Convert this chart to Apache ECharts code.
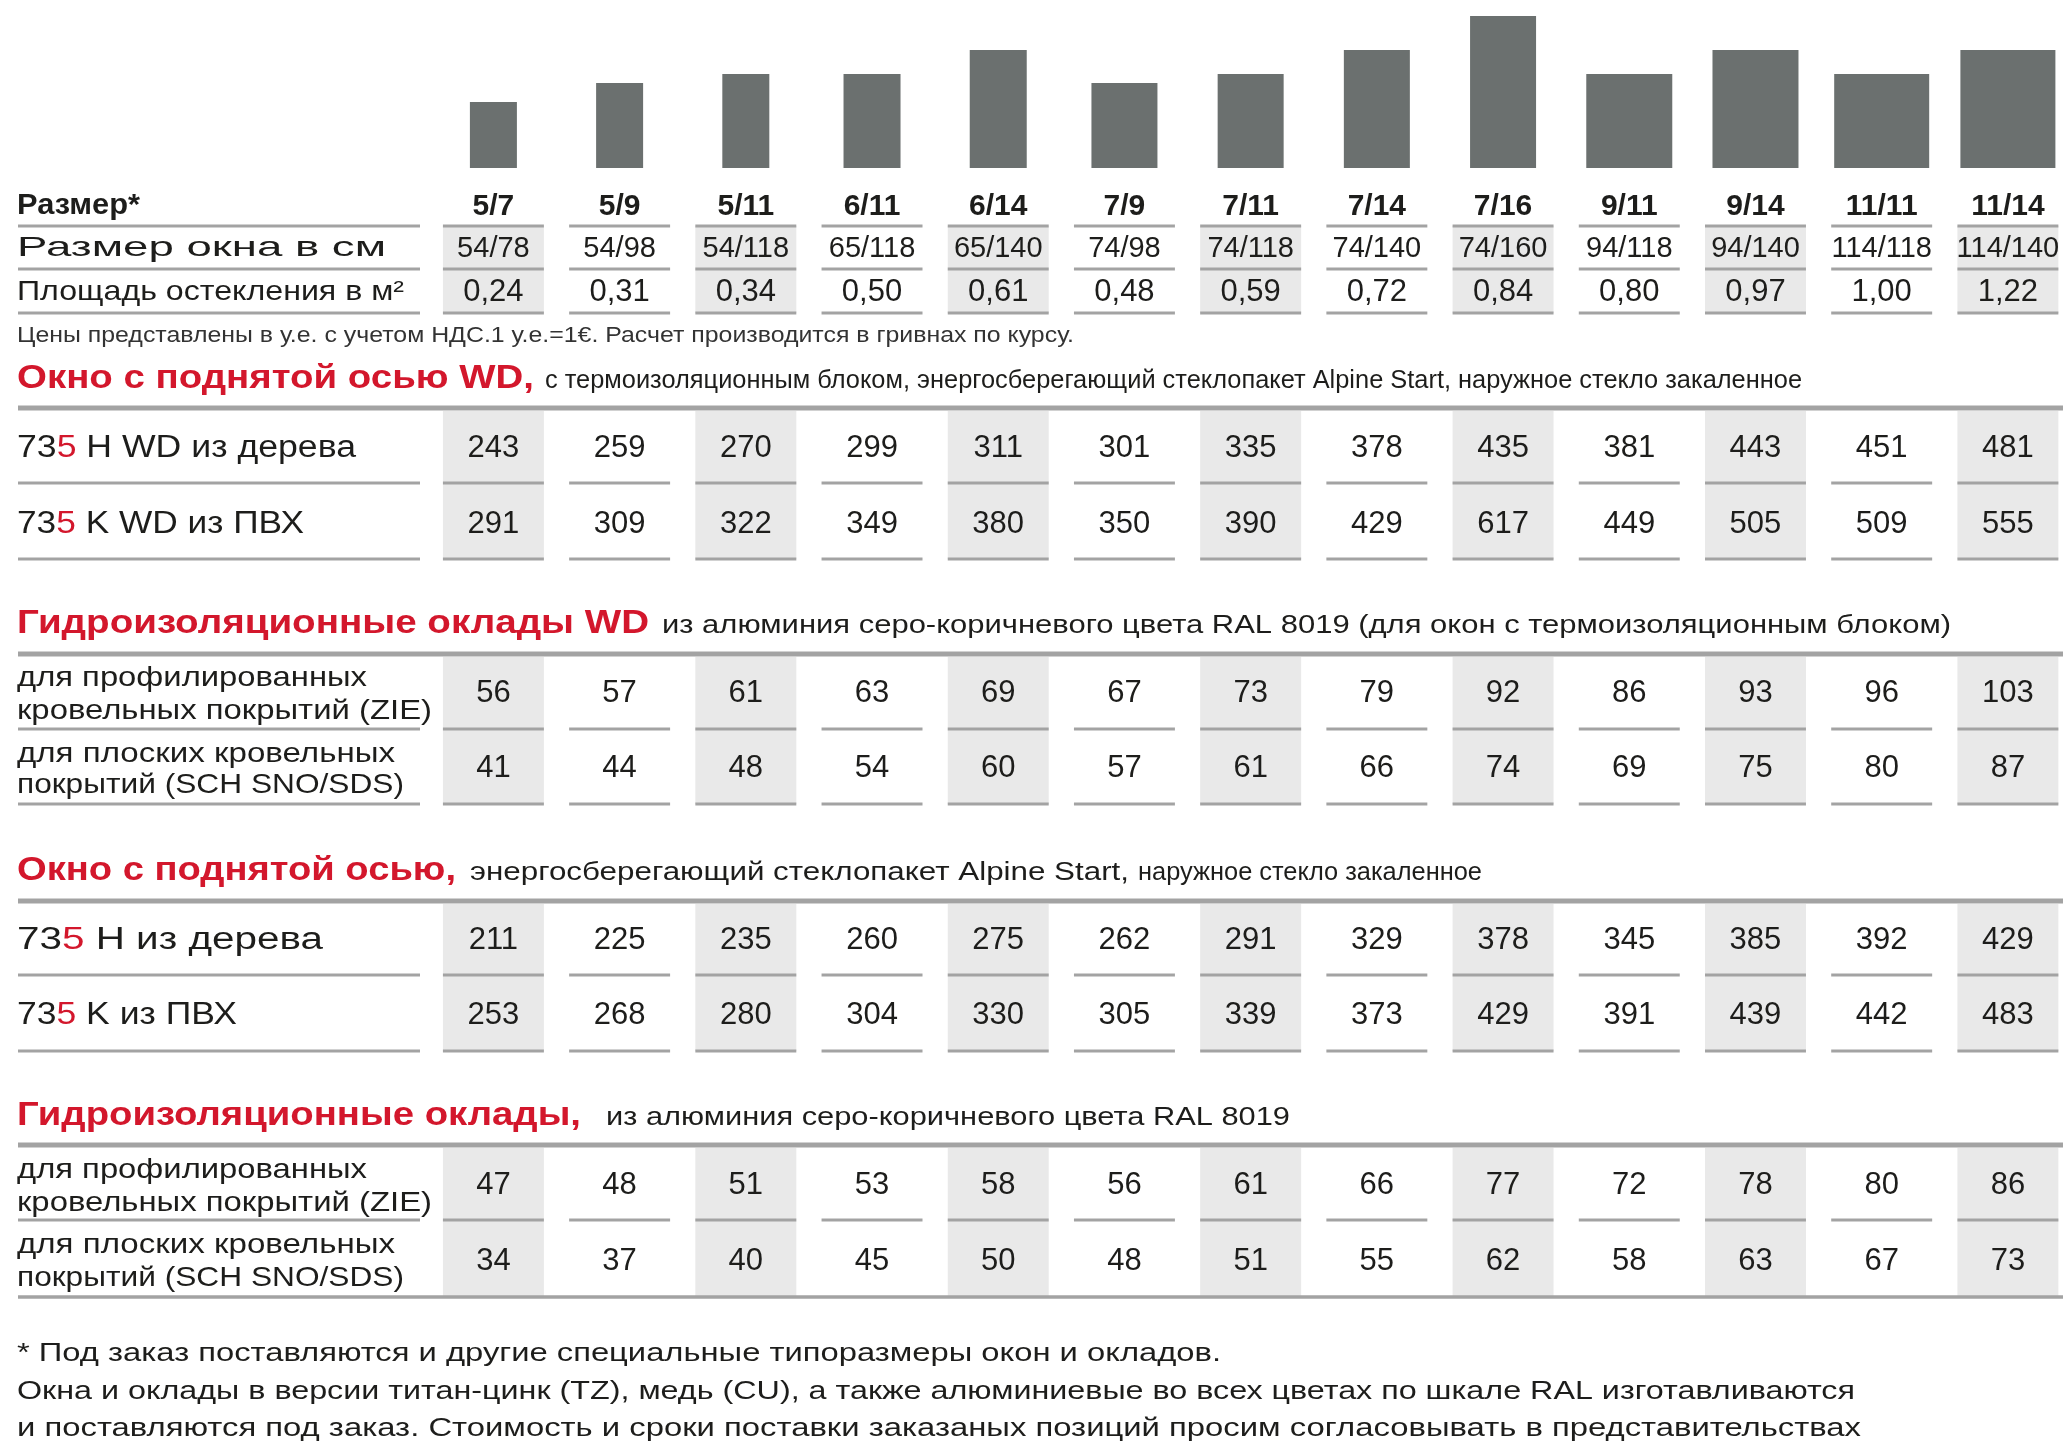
<!DOCTYPE html>
<html><head><meta charset="utf-8">
<script src="https://cdn.jsdelivr.net/npm/echarts@6/dist/echarts.min.js"></script>
<style>html,body{margin:0;padding:0;background:#fff}#c{width:2071px;height:1447px}</style>
</head><body><div id="c"></div>
<script>
// ---------- DATA ----------
const sizes = ['5/7','5/9','5/11','6/11','6/14','7/9','7/11','7/14','7/16','9/11','9/14','11/11','11/14'];
const windowSizes = ['54/78','54/98','54/118','65/118','65/140','74/98','74/118','74/140','74/160','94/118','94/140','114/118','114/140'];
const glazingArea = ['0,24','0,31','0,34','0,50','0,61','0,48','0,59','0,72','0,84','0,80','0,97','1,00','1,22'];
// window pictogram size (relative units)
const iconHeight = [66,85,94,94,118,85,94,118,152,94,118,94,118];
const iconWidth  = [47,47,47,57,57,66,66,66,66,86,86,95,95];
// prices
const wdWood    = [243,259,270,299,311,301,335,378,435,381,443,451,481];
const wdPvc     = [291,309,322,349,380,350,390,429,617,449,505,509,555];
const wdFlashZie= [56,57,61,63,69,67,73,79,92,86,93,96,103];
const wdFlashSch= [41,44,48,54,60,57,61,66,74,69,75,80,87];
const wood      = [211,225,235,260,275,262,291,329,378,345,385,392,429];
const pvc       = [253,268,280,304,330,305,339,373,429,391,439,442,483];
const flashZie  = [47,48,51,53,58,56,61,66,77,72,78,80,86];
const flashSch  = [34,37,40,45,50,48,51,55,62,58,63,67,73];
// texts
const headerLabels = ['Размер*','Размер окна в см','Площадь остекления в м²'];
const noteText = 'Цены представлены в у.е. с учетом НДС.1 у.е.=1€. Расчет производится в гривнах по курсу.';
const sectionTitles = ['Окно с поднятой осью WD,','Гидроизоляционные оклады WD','Окно с поднятой осью,','Гидроизоляционные оклады,'];
const sectionSubtitles = [
  ['с термоизоляционным блоком, энергосберегающий стеклопакет Alpine Start, наружное стекло закаленное'],
  ['из алюминия серо-коричневого цвета RAL 8019 (для окон с термоизоляционным блоком)'],
  ['энергосберегающий стеклопакет Alpine Start,','наружное стекло закаленное'],
  ['из алюминия серо-коричневого цвета RAL 8019']
];
const windowLabels = ['73{r|5} H WD из дерева','73{r|5} K WD из ПВХ','73{r|5} H из дерева','73{r|5} K из ПВХ'];
const flashLabels = [['для профилированных','кровельных покрытий (ZIE)'],['для плоских кровельных','покрытий (SCH SNO/SDS)']];
const footerLines = [
  '* Под заказ поставляются и другие специальные типоразмеры окон и окладов.',
  'Окна и оклады в версии титан-цинк (TZ), медь (CU), а также алюминиевые во всех цветах по шкале RAL изготавливаются',
  'и поставляются под заказ. Стоимость и сроки поставки заказаных позиций просим согласовывать в представительствах'
];

// ---------- STYLE / LAYOUT ----------
const FONT = "'Liberation Sans', Arial, Helvetica, sans-serif";
const C = {text:'#1d1d1b', red:'#d3172c', line:'#a3a3a3', shade:'#e9e9e9', bar:'#6b706f', note:'#333333'};
const GRID_LEFT = 430.3, GRID_W = 1654.3;
const CELL = 0.80;        // cell width as share of column band
const LABEL_X0 = 17, LABEL_X1 = 420, FULL_X1 = 2063;
const DY = 2.6;           // text baseline correction

const ctx = document.createElement('canvas').getContext('2d');
function textW(t, size, weight){ ctx.font = (weight||'normal') + ' ' + size + 'px ' + FONT; return ctx.measureText(t).width; }
function T(text, x, y, w, size, weight, fill){
  const plain = text.replace(/\{\w+\|([^}]*)\}/g,'$1');
  const mw = textW(plain, size, weight);
  return {type:'text', x:x, y:y + DY, scaleX: w ? w/mw : 1, silent:true, z:10,
    style:{text:text, fill:fill||C.text, font:(weight||'normal')+' '+size+'px '+FONT,
      align:'left', verticalAlign:'middle',
      rich:{r:{fill:C.red, fontSize:size, fontFamily:FONT, fontWeight:weight||'normal'}}}};
}

// section layout: thick line y, two rows (text y, rule y)
const sections = [
  {title:376, sub:[[545,1257]], titleW:517, thick:408, rows:[446,522], rules:[483,559], data:[wdWood, wdPvc], kind:'win', labels:[0,1]},
  {title:621, sub:[[662,1289]], titleW:632, thick:654, rows:[691,766], rules:[729,804], data:[wdFlashZie, wdFlashSch], kind:'flash', labelY:[[676,709],[752,783]]},
  {title:868, sub:[[470,659],[1138,344]], titleW:439, thick:901, rows:[938,1013], rules:[975,1051], data:[wood, pvc], kind:'win', labels:[2,3]},
  {title:1113, sub:[[606,684]], titleW:564, thick:1145, rows:[1183,1259], rules:[1220,1297], data:[flashZie, flashSch], kind:'flash', labelY:[[1168,1201],[1243,1276]], lastFull:true}
];
const winLabelW = [339,287,306,220];
const flashLabelW = [[350,415],[378,387]];

// ---------- GRAPHIC TEXTS ----------
const graphics = [];
graphics.push(T(headerLabels[0], LABEL_X0, 203, 123, 29, 'bold'));
graphics.push(T(headerLabels[1], LABEL_X0, 246, 369, 28));
graphics.push(T(headerLabels[2], LABEL_X0, 290, 387, 28));
graphics.push(T(noteText, LABEL_X0, 333, 1057, 22, 'normal', C.note));
sections.forEach((s, k) => {
  const tSize = 33, subSize = 25;
  graphics.push(T(sectionTitles[k], LABEL_X0, s.title, s.titleW, tSize, 'bold', C.red));
  const base = s.title + 0.36*tSize;
  sectionSubtitles[k].forEach((st, j) => {
    graphics.push(T(st, s.sub[j][0], base - 0.36*subSize, s.sub[j][1], subSize));
  });
  if (s.kind === 'win') {
    s.labels.forEach((li, j) => graphics.push(T(windowLabels[li], LABEL_X0, s.rows[j], winLabelW[li], 31)));
  } else {
    flashLabels.forEach((pair, j) => pair.forEach((ln, m) =>
      graphics.push(T(ln, LABEL_X0, s.labelY[j][m], flashLabelW[j][m], 28))));
  }
});
[1351,1389,1426].forEach((y, j) => graphics.push(T(footerLines[j], LABEL_X0, y, [1204,1838,1844][j], 26)));

// ---------- SERIES ----------
const series = [];
// window pictograms
series.push({type:'custom', xAxisIndex:0, yAxisIndex:0, clip:false,
  data: sizes.map((s,i)=>[i, iconHeight[i], iconWidth[i]]),
  renderItem(params, api){
    const i = api.value(0), h = api.value(1), w = api.value(2);
    const b = api.coord([i, 0]), t = api.coord([i, h]);
    const pw = api.size([0, w])[1];
    return {type:'rect', shape:{x:b[0]-pw/2, y:t[1], width:pw, height:b[1]-t[1]}, style:{fill:C.bar}};
  }});

// shading blocks [top, bottom]
const shadeBlocks = [[226,313]].concat(sections.map(s=>[s.thick+3, s.rules[1]]));
shadeBlocks.forEach(([top, bot]) => {
  series.push({type:'custom', xAxisIndex:1, yAxisIndex:1, clip:false, z:1,
    data: sizes.map((s,i)=>[i]).filter(d=>d[0]%2===0),
    renderItem(params, api){
      const i = api.value(0);
      const a = api.coord([i, top]), b = api.coord([i, bot]);
      const cw = api.size([1, 0])[0]*CELL;
      return {type:'rect', shape:{x:a[0]-cw/2, y:a[1], width:cw, height:b[1]-a[1]}, style:{fill:C.shade}};
    }});
});

// column rules (segments under each cell) + label rules
const ruleRows = [226,269,313];
sections.forEach(s => { s.rules.forEach((r, j) => { if (!(s.lastFull && j===1)) ruleRows.push(r); }); });
ruleRows.forEach(y => {
  series.push({type:'custom', xAxisIndex:1, yAxisIndex:1, clip:false, z:3,
    data: sizes.map((s,i)=>[i]),
    renderItem(params, api){
      const i = api.value(0);
      const p = api.coord([i, y]);
      const cw = api.size([1, 0])[0]*CELL;
      const children = [{type:'rect', shape:{x:p[0]-cw/2, y:p[1]-1.5, width:cw, height:3}, style:{fill:C.line}}];
      if (i === 0) children.push({type:'rect', shape:{x:LABEL_X0+1, y:p[1]-1.5, width:LABEL_X1-LABEL_X0-1, height:3}, style:{fill:C.line}});
      return {type:'group', children};
    }});
});
// full-width rules: thick section lines + final bottom line
const fullRules = sections.map(s=>[s.thick, 5]);
fullRules.push([sections[3].rules[1], 3.5]);
series.push({type:'custom', xAxisIndex:1, yAxisIndex:1, clip:false, z:3,
  data: fullRules,
  renderItem(params, api){
    const p = api.coord([0, api.value(0)]);
    const th = api.value(1);
    return {type:'rect', shape:{x:LABEL_X0+1, y:p[1]-th/2, width:FULL_X1-LABEL_X0-1, height:th}, style:{fill:C.line}};
  }});

// cell texts
function textRow(values, y, size, weight){
  series.push({type:'custom', xAxisIndex:1, yAxisIndex:1, clip:false, z:5,
    data: values.map((v,i)=>[i, v]),
    renderItem(params, api){
      const i = api.value(0);
      const p = api.coord([i, y + DY]);
      return {type:'text', x:p[0], y:p[1],
        style:{text:String(values[i]), fill:C.text, font:(weight||'normal')+' '+size+'px '+FONT, align:'center', verticalAlign:'middle'}};
    }});
}
textRow(sizes, 204, 30, 'bold');
textRow(windowSizes, 246, 29);
textRow(glazingArea, 290, 31);
sections.forEach(s => { textRow(s.data[0], s.rows[0], 31); textRow(s.data[1], s.rows[1], 31); });

const chart = echarts.init(document.getElementById('c'), null, {renderer:'canvas'});
chart.setOption({
  animation:false,
  backgroundColor:'#ffffff',
  grid:[
    {left:GRID_LEFT, width:GRID_W, top:0, height:168},
    {left:GRID_LEFT, width:GRID_W, top:0, height:1447}
  ],
  xAxis:[
    {type:'category', gridIndex:0, data:sizes, show:false},
    {type:'category', gridIndex:1, data:sizes, show:false}
  ],
  yAxis:[
    {type:'value', gridIndex:0, min:0, max:168, show:false},
    {type:'value', gridIndex:1, min:0, max:1447, inverse:true, show:false}
  ],
  graphic: graphics,
  series: series
});
</script></body></html>
